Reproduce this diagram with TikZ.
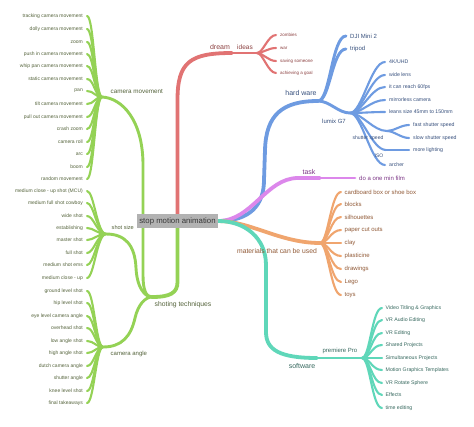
\documentclass[tikz,border=0pt]{standalone}
\usepackage{fontspec}
\setmainfont{Liberation Sans}
\usetikzlibrary{backgrounds}
\definecolor{gcol}{RGB}{148,210,85}
\definecolor{gtxt}{RGB}{85,100,60}
\definecolor{rcol}{RGB}{225,115,115}
\definecolor{rtxt}{RGB}{140,65,65}
\definecolor{bcol}{RGB}{110,155,225}
\definecolor{btxt}{RGB}{55,80,125}
\definecolor{pcol}{RGB}{220,135,235}
\definecolor{ptxt}{RGB}{125,55,135}
\definecolor{ocol}{RGB}{240,165,110}
\definecolor{otxt}{RGB}{145,90,55}
\definecolor{tcol}{RGB}{95,215,185}
\definecolor{ttxt}{RGB}{55,105,95}
\definecolor{cbox}{RGB}{178,178,178}
\definecolor{ctxt}{RGB}{55,55,55}
\newcommand\myfs[1]{\fontsize{#1}{#1}\selectfont}
\begin{document}
\begin{tikzpicture}[x=1pt,y=-1pt,
  trunk/.style={line width=3.8pt,line cap=round},
  midline/.style={line width=2.9pt,line cap=round},
  twig/.style={line width=2.1pt,line cap=round},
  lab/.style={inner sep=0.5pt},
  gleaf/.style={anchor=east,inner xsep=4pt,inner ysep=0.5pt,text=gtxt,font=\myfs{5}},
  rleaf/.style={anchor=west,inner xsep=4pt,inner ysep=0.5pt,text=rtxt,font=\myfs{4.5}},
  bleaf/.style={anchor=west,inner xsep=4pt,inner ysep=0.5pt,text=btxt,font=\myfs{5.2}},
  oleaf/.style={anchor=west,inner xsep=3.5pt,inner ysep=0.5pt,text=otxt,font=\myfs{6}},
  tleaf/.style={anchor=west,inner xsep=3.5pt,inner ysep=0.5pt,text=ttxt,font=\myfs{5.2}}]
\useasboundingbox (0,0) rectangle (474,426);
\begin{pgfonlayer}{background}
\fill[white] (0,0) rectangle (474,426);
\end{pgfonlayer}

% root
\node[fill=cbox,text=ctxt,font=\myfs{7.8},minimum width=81pt,minimum height=14pt,inner sep=1pt] (root) at (177.5,221) {stop motion animation};

% junction coordinates
\coordinate (cmh) at (102,97);
\coordinate (ssh) at (106,234);
\coordinate (cah) at (103,347);
\coordinate (stj) at (152,297);
\coordinate (dj) at (232,53);
\coordinate (ij) at (257,53);
\coordinate (hwj) at (318,101);
\coordinate (lj) at (350,113);
\coordinate (shj) at (387,131);
\coordinate (isj) at (386,150);
\coordinate (tj) at (320,178);
\coordinate (oj) at (320,243);
\coordinate (swj) at (317,358);
\coordinate (prj) at (362,358);

% ---------------- green ----------------
\foreach \n/\t/\y in {1/tracking camera movement/16,2/dolly camera movement/29,3/zoom/42,4/push in camera movement/54,5/whip pan camera movement/66,6/static camera movement/79,7/pan/91,8/tilt camera movement/104,9/pull out camera movement/117,10/crash zoom/129,11/camera roll/142,12/arc/154,13/boom/167,14/random movement/179}{
  \node[gleaf] (cm\n) at (87,\y) {\t};
  \begin{pgfonlayer}{background}
  \draw[twig,gcol] (cmh) .. controls +(-7,0) and +(7,0) .. (cm\n.east);
  \end{pgfonlayer}
}
\foreach \n/\t/\y in {1/medium close - up shot (MCU)/191,2/medium full shot cowboy/203,3/wide shot/216,4/establishing/228,5/master shot/240,6/full shot/253,7/medium shot ems/265,8/medium close - up/278}{
  \node[gleaf] (ss\n) at (87,\y) {\t};
  \begin{pgfonlayer}{background}
  \draw[twig,gcol] (ssh) .. controls +(-9,0) and +(7,0) .. (ss\n.east);
  \end{pgfonlayer}
}
\foreach \n/\t/\y in {1/ground level shot/291,2/hip level shot/303,3/eye level camera angle/316,4/overhead shot/328,5/low angle shot/341,6/high angle shot/353,7/dutch camera angle/366,8/shutter angle/378,9/knee level shot/391,10/final takeaways/403}{
  \node[gleaf] (ca\n) at (87,\y) {\t};
  \begin{pgfonlayer}{background}
  \draw[twig,gcol] (cah) .. controls +(-7,0) and +(7,0) .. (ca\n.east);
  \end{pgfonlayer}
}
\node[lab,anchor=west,text=gtxt,font=\myfs{6.3}] (cmL) at (110,91) {camera movement};
\node[lab,anchor=west,text=gtxt,font=\myfs{5.6}] (ssL) at (111,227) {shot size};
\node[lab,anchor=west,text=gtxt,font=\myfs{6}] (caL) at (110,354) {camera angle};
\node[lab,anchor=west,text=gtxt,font=\myfs{6.8}] (stL) at (154,305) {shoting techniques};
\begin{pgfonlayer}{background}
\draw[trunk,gcol] (root.south) -- (177.5,282) .. controls (177.5,293) and (170,297) .. (stj);
\draw[midline,gcol] (stj) .. controls (146,297) and (143,290) .. (143,275) -- (143,165) .. controls (143,120) and (122,98) .. (cmh);
\draw[midline,gcol] (stj) .. controls (145,297) and (137,288) .. (136,268) .. controls (135,245) and (125,234) .. (ssh);
\draw[midline,gcol] (stj) .. controls (145,297) and (138,305) .. (135,318) .. controls (131,336) and (122,347) .. (cah);
\end{pgfonlayer}

% ---------------- red ----------------
\node[lab,text=rtxt,font=\myfs{7}] (dreamL) at (220,47) {dream};
\node[lab,text=rtxt,font=\myfs{6.5}] (ideasL) at (245,47) {ideas};
\foreach \n/\t/\y in {1/zombies/35,2/war/48,3/saving someone/61,4/achieving a goal/73}{
  \node[rleaf] (r\n) at (276,\y) {\t};
  \begin{pgfonlayer}{background}
  \draw[twig,rcol] (ij) .. controls +(6,0) and +(-8,0) .. (r\n.west);
  \end{pgfonlayer}
}
\begin{pgfonlayer}{background}
\draw[trunk,rcol] (root.north) -- (177.5,100) .. controls (177.5,62) and (190,53) .. (dj);
\draw[midline,rcol] (dj) -- (ij);
\end{pgfonlayer}

% ---------------- blue ----------------
\node[lab,text=btxt,font=\myfs{7}] (hwL) at (301,93) {hard ware};
\node[anchor=west,inner xsep=4pt,inner ysep=0.5pt,text=btxt,font=\myfs{6}] (dji) at (346,36) {DJI Mini 2};
\node[anchor=west,inner xsep=4pt,inner ysep=0.5pt,text=btxt,font=\myfs{6}] (trip) at (346,49) {tripod};
\node[lab,text=btxt,font=\myfs{6}] (lumL) at (334,121) {lumix G7};
\foreach \n/\t/\y in {1/4K\slash UHD/62,2/wide lens/75,3/it can reach 60fps/87,4/mirrorless camera/100,5/leans size 45mm to 150mm/112,6/archer/165}{
  \node[bleaf] (lx\n) at (385,\y) {\t};
  \begin{pgfonlayer}{background}
  \draw[twig,bcol] (lj) .. controls +(12,0) and +(-14,0) .. (lx\n.west);
  \end{pgfonlayer}
}
\node[lab,text=btxt,font=\myfs{5.1}] (shL) at (368,138) {shutter speed};
\node[lab,text=btxt,font=\myfs{5}] (isL) at (379,156) {ISO};
\node[bleaf] (fast) at (409,125) {fast shutter speed};
\node[bleaf] (slow) at (409,138) {slow shutter speed};
\node[bleaf] (ml) at (409,150) {more lighting};
\begin{pgfonlayer}{background}
\draw[trunk,bcol] (root.east) .. controls (250,221) and (264,205) .. (264,180) -- (265,150) .. controls (266,115) and (282,101) .. (hwj);
\draw[midline,bcol] (hwj) .. controls +(12,0) and +(-14,0) .. (dji.west);
\draw[midline,bcol] (hwj) .. controls +(12,0) and +(-14,0) .. (trip.west);
\draw[midline,bcol] (hwj) .. controls +(12,0) and +(-12,0) .. (lj);
\draw[twig,bcol] (lj) .. controls +(12,0) and +(-14,0) .. (shj);
\draw[twig,bcol] (lj) .. controls +(12,0) and +(-14,0) .. (isj);
\draw[twig,bcol] (shj) .. controls +(7,0) and +(-8,0) .. (fast.west);
\draw[twig,bcol] (shj) .. controls +(7,0) and +(-8,0) .. (slow.west);
\draw[twig,bcol] (isj) -- (ml.west);
\end{pgfonlayer}

% ---------------- purple ----------------
\node[lab,text=ptxt,font=\myfs{7}] (taskL) at (309,172) {task};
\node[anchor=west,inner xsep=4pt,inner ysep=0.5pt,text=ptxt,font=\myfs{6}] (film) at (355,178) {do a one min film};
\begin{pgfonlayer}{background}
\draw[trunk,pcol] (root.east) .. controls (252,221) and (266,178) .. (298,178) -- (tj);
\draw[midline,pcol] (tj) -- (film.west);
\end{pgfonlayer}

% ---------------- orange ----------------
\node[lab,text=otxt,font=\myfs{6.8}] (matL) at (277,251) {materials that can be used};
\foreach \n/\t/\y in {1/cardboard box or shoe box/192,2/blocks/204,3/silhouettes/217,4/paper cut outs/230,5/clay/243,6/plasticine/256,7/drawings/269,8/Lego/282,9/toys/295}{
  \node[oleaf] (o\n) at (341,\y) {\t};
  \begin{pgfonlayer}{background}
  \draw[twig,ocol] (oj) .. controls +(8,0) and +(-10,0) .. (o\n.west);
  \end{pgfonlayer}
}
\begin{pgfonlayer}{background}
\draw[trunk,ocol] (root.east) .. controls (250,221) and (280,243) .. (oj);
\end{pgfonlayer}

% ---------------- teal ----------------
\node[lab,text=ttxt,font=\myfs{7}] (swL) at (302,366) {software};
\node[lab,text=ttxt,font=\myfs{6}] (prL) at (340,351) {premiere Pro};
\foreach \n/\t/\y in {1/Video Titling \& Graphics/308,2/VR Audio Editing/320,3/VR Editing/333,4/Shared Projects/345,5/Simultaneous Projects/358,6/Motion Graphics Templates/370,7/VR Rotate Sphere/383,8/Effects/395,9/time editing/408}{
  \node[tleaf] (t\n) at (382,\y) {\t};
  \begin{pgfonlayer}{background}
  \draw[twig,tcol] (prj) .. controls +(8,0) and +(-10,0) .. (t\n.west);
  \end{pgfonlayer}
}
\begin{pgfonlayer}{background}
\draw[trunk,tcol] (root.east) .. controls (245,221) and (266,238) .. (266,265) -- (266,332) .. controls (266,350) and (280,358) .. (swj);
\draw[midline,tcol] (swj) -- (prj);
\end{pgfonlayer}
\end{tikzpicture}
\end{document}
